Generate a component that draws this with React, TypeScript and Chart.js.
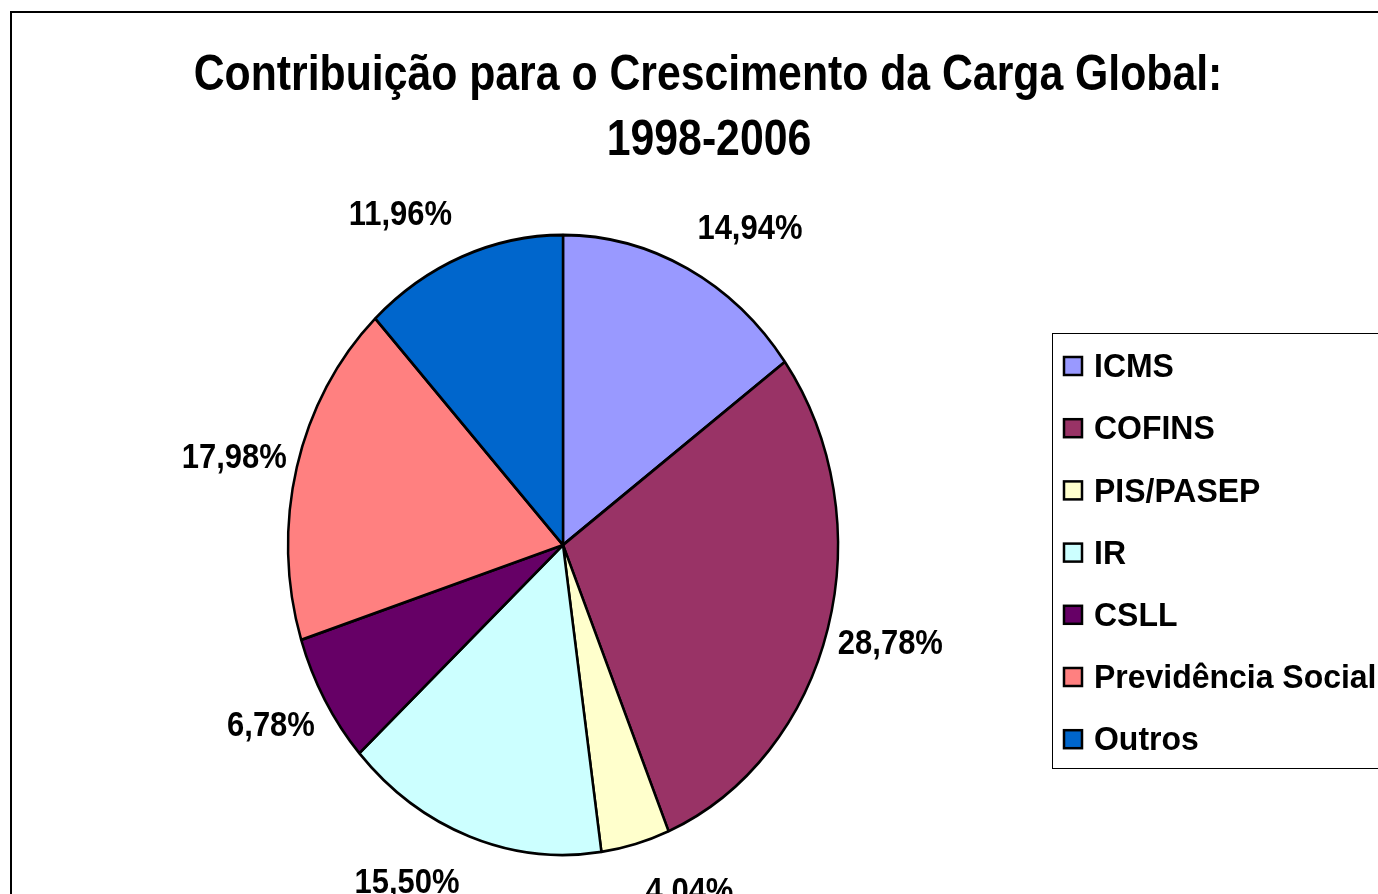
import React, { useEffect, useRef } from 'react';
import { Chart, registerables } from 'chart.js';

Chart.register(...registerables);

const TITLE_LINES = ['Contribuição para o Crescimento da Carga Global:', '1998-2006'];
const CATEGORIES = ['ICMS', 'COFINS', 'PIS/PASEP', 'IR', 'CSLL', 'Previdência Social', 'Outros'];
const VALUES = [14.94, 28.78, 4.04, 15.5, 6.78, 17.98, 11.96];
const COLORS = ['#9999FF', '#993366', '#FFFFCC', '#CCFFFF', '#660066', '#FF8080', '#0066CC'];

const FONT = '"Liberation Sans", Arial, Helvetica, sans-serif';
const Y_STRETCH = 310 / 275;

function fmt(v: number) {
  return v.toFixed(2).replace('.', ',') + '%';
}

function drawText(
  ctx: CanvasRenderingContext2D,
  text: string,
  x: number,
  y: number,
  size: number,
  sx: number,
  align: CanvasTextAlign
) {
  ctx.save();
  ctx.font = `bold ${size}px ${FONT}`;
  ctx.fillStyle = '#000';
  ctx.textAlign = align;
  ctx.textBaseline = 'alphabetic';
  ctx.translate(x, y);
  ctx.scale(sx, 1);
  ctx.fillText(text, 0, 0);
  ctx.restore();
}

const excelPlugin = {
  id: 'excelLook',
  beforeDraw(chart: any) {
    const ctx: CanvasRenderingContext2D = chart.ctx;
    ctx.save();
    ctx.fillStyle = '#fff';
    ctx.fillRect(0, 0, chart.width, chart.height);
    ctx.strokeStyle = '#000';
    ctx.lineWidth = 2;
    ctx.strokeRect(11, 12, 3000, 3000);
    ctx.restore();
  },
  beforeDatasetsDraw(chart: any) {
    const ctx: CanvasRenderingContext2D = chart.ctx;
    const arc = chart.getDatasetMeta(0).data[0];
    const cx = arc.x;
    const cy = arc.y;
    ctx.save();
    ctx.translate(cx, cy);
    ctx.scale(1, Y_STRETCH);
    ctx.translate(-cx, -cy);
  },
  afterDatasetsDraw(chart: any) {
    const ctx: CanvasRenderingContext2D = chart.ctx;
    ctx.restore();
    const meta = chart.getDatasetMeta(0);
    const values = chart.data.datasets[0].data as number[];
    const size = 35;
    const sx = 0.885;
    meta.data.forEach((el: any, i: number) => {
      const p = el.getProps(['x', 'y', 'startAngle', 'endAngle', 'outerRadius'], true);
      const mid = (p.startAngle + p.endAngle) / 2;
      const c = Math.cos(mid);
      const s = Math.sin(mid);
      const ax = p.x + p.outerRadius * c;
      const ay = p.y + p.outerRadius * s * Y_STRETCH;
      const txt = fmt(values[i]);
      ctx.save();
      ctx.font = `bold ${size}px ${FONT}`;
      const hw = (ctx.measureText(txt).width * sx) / 2;
      ctx.restore();
      const tx = ax + Math.sign(c) * (hw + 10);
      const ty = ay + s * 47;
      drawText(ctx, txt, tx, ty + size * 0.716 / 2, size, sx, 'center');
    });
  },
  afterDraw(chart: any) {
    const ctx: CanvasRenderingContext2D = chart.ctx;
    // title
    drawText(ctx, TITLE_LINES[0], 708, 90, 50, 0.855, 'center');
    drawText(ctx, TITLE_LINES[1], 709, 155, 50, 0.855, 'center');
    // legend
    ctx.save();
    ctx.strokeStyle = '#000';
    ctx.lineWidth = 1;
    ctx.strokeRect(1052.5, 333.5, 1000, 435);
    ctx.restore();
    const labels = chart.data.labels as string[];
    const colors = chart.data.datasets[0].backgroundColor as string[];
    const lsize = 34;
    labels.forEach((lab, i) => {
      const cy = 366 + i * 62.2;
      ctx.save();
      ctx.fillStyle = colors[i];
      ctx.fillRect(1064, cy - 9, 18, 18);
      ctx.strokeStyle = '#000';
      ctx.lineWidth = 2.5;
      ctx.strokeRect(1064, cy - 9, 18, 18);
      ctx.restore();
      drawText(ctx, lab, 1094, cy - 1 + lsize * 0.716 / 2, lsize, 0.94, 'left');
    });
  },
};

export default function App() {
  const ref = useRef<HTMLCanvasElement | null>(null);
  useEffect(() => {
    if (!ref.current) return;
    const chart = new Chart(ref.current, {
      type: 'pie',
      data: {
        labels: CATEGORIES,
        datasets: [
          {
            data: VALUES,
            backgroundColor: COLORS,
            borderColor: '#000',
            borderWidth: 2.5,
          },
        ],
      },
      options: {
        responsive: false,
        animation: false,
        events: [],
        radius: 275,
        layout: { padding: { left: 100, right: 352, top: 240, bottom: 44 } },
        plugins: {
          legend: { display: false },
          title: { display: false },
          tooltip: { enabled: false },
        },
      } as any,
      plugins: [excelPlugin],
    });
    return () => chart.destroy();
  }, []);
  return (
    <div style={{ position: 'fixed', left: 0, top: 0, width: 1378, height: 894, background: '#fff' }}>
      <canvas ref={ref} width={1378} height={894} style={{ display: 'block' }} />
    </div>
  );
}
